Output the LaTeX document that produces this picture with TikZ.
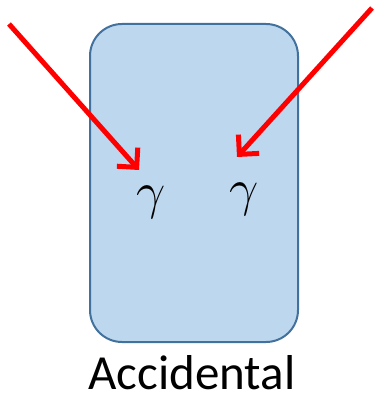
\RequirePackage{fix-cm}
\documentclass[tikz,border=0pt]{standalone}
\usepackage{fontspec}
\setmainfont{Carlito}
\usetikzlibrary{arrows.meta}
\definecolor{boxfill}{HTML}{BDD7EE}
\definecolor{boxline}{HTML}{41719C}
\tikzset{
  ray/.style={draw=red, line width=5pt, -{Straight Barb[length=14pt,width=28pt,line width=5pt]}},
  gam/.style={inner sep=0pt, font=\fontsize{52}{52}\selectfont},
}
\begin{document}
\begin{tikzpicture}[x=1pt,y=-1pt]
\useasboundingbox (0,0) rectangle (376,395);
\draw[fill=boxfill, draw=boxline, line width=2pt, rounded corners=32pt] (90,24) rectangle (298,342);
\node[gam, anchor=base] (g1) at (151,208) {$\gamma$};
\node[gam, anchor=base] (g2) at (244,205) {$\gamma$};
\coordinate (s1) at (9,24);
\coordinate (t1) at (139,170);
\coordinate (s2) at (372,8);
\coordinate (t2) at (237,157);
\draw[ray] (s1) -- (t1);
\draw[ray] (s2) -- (t2);
\node[anchor=base, inner sep=0pt, font=\fontsize{49}{49}\selectfont] (lab) at (192,389) {Accidental};
\end{tikzpicture}
\end{document}
